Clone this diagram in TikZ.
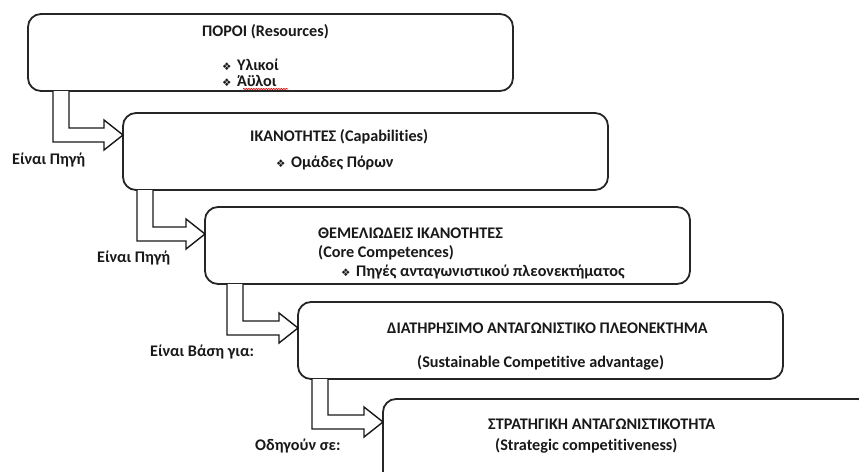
\documentclass[tikz,border=0pt]{standalone}
\usepackage{fontspec}
\setmainfont{Carlito}[Ligatures=NoCommon]
\newfontfamily\dingfont{DejaVu Sans}
\usetikzlibrary{calc,decorations.pathmorphing}
\tikzset{
  box/.style={draw=black!85, line width=1.8pt, rounded corners=13pt, inner sep=0pt, outer sep=0pt, anchor=north west, minimum width=485pt, minimum height=77pt},
  lbl/.style={font=\bfseries\fontsize{16.2}{17}\selectfont, text=black!90, inner sep=0pt, anchor=west},
  arrowline/.style={draw=black!90, fill=white, line width=1.4pt, line join=miter},
}
\newcommand\bul{{\dingfont\fontsize{10.5}{10}\selectfont ❖}\hspace{5.5pt}}
% #1 source box, #2 target box, #3 x offset of outer line, #4 y offset of tip
\newcommand\barrow[4]{%
  \coordinate (T#1) at ($(#2.north west)+(0,#4)$);
  \draw[arrowline] ($(#1.south west)+(#3,0)$) |- ($(T#1)+(-19,7)$) -- ($(T#1)+(-19,15)$) -- (T#1)
     -- ($(T#1)+(-19,-15)$) -- ($(T#1)+(-19,-7)$) -| ($(#1.south west)+(#3+16,0)$);
}
\begin{document}
\begin{tikzpicture}[x=1pt,y=-1pt]
\useasboundingbox (0,0) rectangle (859,471);
\clip (0,0) rectangle (859,471);
\fill[white] (0,0) rectangle (859,471);

\node[box] (b1) at (28,14) {};
\node[box] (b2) at (123,113) {};
\node[box] (b3) at (205,207) {};
\node[box] (b4) at (298,302) {};
\node[box, minimum width=488pt, minimum height=92pt] (b5) at (383,399) {};

\barrow{b1}{b2}{25}{22}
\barrow{b2}{b3}{14}{27}
\barrow{b3}{b4}{22}{26}
\barrow{b4}{b5}{14}{23}

% box 1
\node[lbl] (t11) at (202,32) {ΠΟΡΟΙ (Resources)};
\node[lbl] (t12) at (222,65) {\bul Υλικοί};
\node[lbl] (t13) at (222,81) {\bul Άϋλοι};
\draw[red!85!black, line width=0.6pt, decorate, decoration={snake, amplitude=0.6pt, segment length=2.5pt}] (243,89) -- (288,89);
% box 2
\node[lbl] (t21) at (250,137) {ΙΚΑΝΟΤΗΤΕΣ (Capabilities)};
\node[lbl] (t22) at (276,163) {\bul Ομάδες Πόρων};
% box 3
\node[lbl] (t31) at (318,233) {ΘΕΜΕΛΙΩΔΕΙΣ ΙΚΑΝΟΤΗΤΕΣ};
\node[lbl] (t32) at (318,253) {(Core Competences)};
\node[lbl] (t33) at (341,272) {\bul Πηγές ανταγωνιστικού πλεονεκτήματος};
% box 4
\node[lbl] (t41) at (387,328) {ΔΙΑΤΗΡΗΣΙΜΟ ΑΝΤΑΓΩΝΙΣΤΙΚΟ ΠΛΕΟΝΕΚΤΗΜΑ};
\node[lbl] (t42) at (417,363) {(Sustainable Competitive advantage)};
% box 5
\node[lbl] (t51) at (488,424) {ΣΤΡΑΤΗΓΙΚΗ ΑΝΤΑΓΩΝΙΣΤΙΚΟΤΗΤΑ};
\node[lbl] (t52) at (495,446) {(Strategic competitiveness)};
% labels
\node[lbl] (l1) at (12,160) {Είναι Πηγή};
\node[lbl] (l2) at (97,258) {Είναι Πηγή};
\node[lbl] (l3) at (150,352) {Είναι Βάση για:};
\node[lbl] (l4) at (255,446) {Οδηγούν σε:};
\end{tikzpicture}
\end{document}
